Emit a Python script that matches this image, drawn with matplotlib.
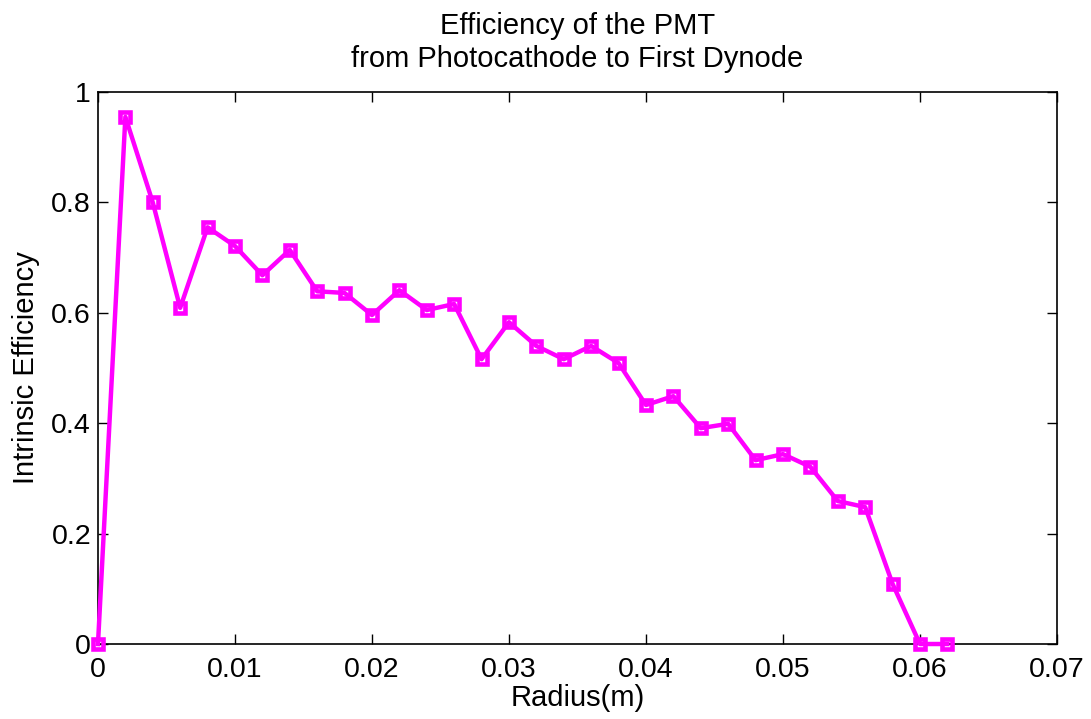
import numpy as np
import matplotlib
matplotlib.use("Agg")
import matplotlib.pyplot as plt

plt.rcParams['font.family'] = ['Liberation Sans', 'DejaVu Sans']

# Dados
raio = [0.000, 0.002, 0.004, 0.006, 0.008, 0.010, 0.012, 0.014, 0.016, 0.018,
        0.020, 0.022, 0.024, 0.026, 0.028, 0.030, 0.032, 0.034, 0.036, 0.038,
        0.040, 0.042, 0.044, 0.046, 0.048, 0.050, 0.052, 0.054, 0.056, 0.058,
        0.060, 0.062]
eficiencia = [0.000, 0.955, 0.800, 0.609, 0.755, 0.721, 0.668, 0.714, 0.639, 0.636,
              0.596, 0.641, 0.605, 0.616, 0.516, 0.583, 0.540, 0.516, 0.540, 0.509,
              0.433, 0.449, 0.391, 0.399, 0.333, 0.344, 0.321, 0.259, 0.248, 0.109,
              0.000, 0.000]
xticks = [0, 0.01, 0.02, 0.03, 0.04, 0.05, 0.06, 0.07]
xlabels = ['0', '0.01', '0.02', '0.03', '0.04', '0.05', '0.06', '0.07']
yticks = [0, 0.2, 0.4, 0.6, 0.8, 1]
ylabels = ['0', '0.2', '0.4', '0.6', '0.8', '1']

fig = plt.figure(figsize=(10.91, 7.19), dpi=100)
ax = fig.add_axes([0.0898, 0.1043, 0.8790, 0.7677])

ax.plot(raio, eficiencia, color='#ff00ff', linewidth=3.2, marker='s',
        markersize=6.5, markerfacecolor='none', markeredgecolor='#ff00ff',
        markeredgewidth=3.3, clip_on=False, zorder=3)

ax.set_xlim(0, 0.07)
ax.set_ylim(0, 1)
ax.set_xticks(xticks)
ax.set_xticklabels(xlabels)
ax.set_yticks(yticks)
ax.set_yticklabels(ylabels)
ax.tick_params(direction='in', top=True, right=True, length=7, width=1,
               labelsize=20.5)
ax.tick_params(axis='x', pad=9)
ax.tick_params(axis='y', pad=5)
for s in ax.spines.values():
    s.set_linewidth(1.2)

ax.set_xlabel("Radius(m)", fontsize=21, labelpad=1)
ax.set_ylabel("Intrinsic Efficiency", fontsize=21, labelpad=8)
ax.set_title("Efficiency of the PMT\nfrom Photocathode to First Dynode",
             fontsize=21, pad=18, linespacing=1.25)

fig.savefig("out.png", dpi=100)
